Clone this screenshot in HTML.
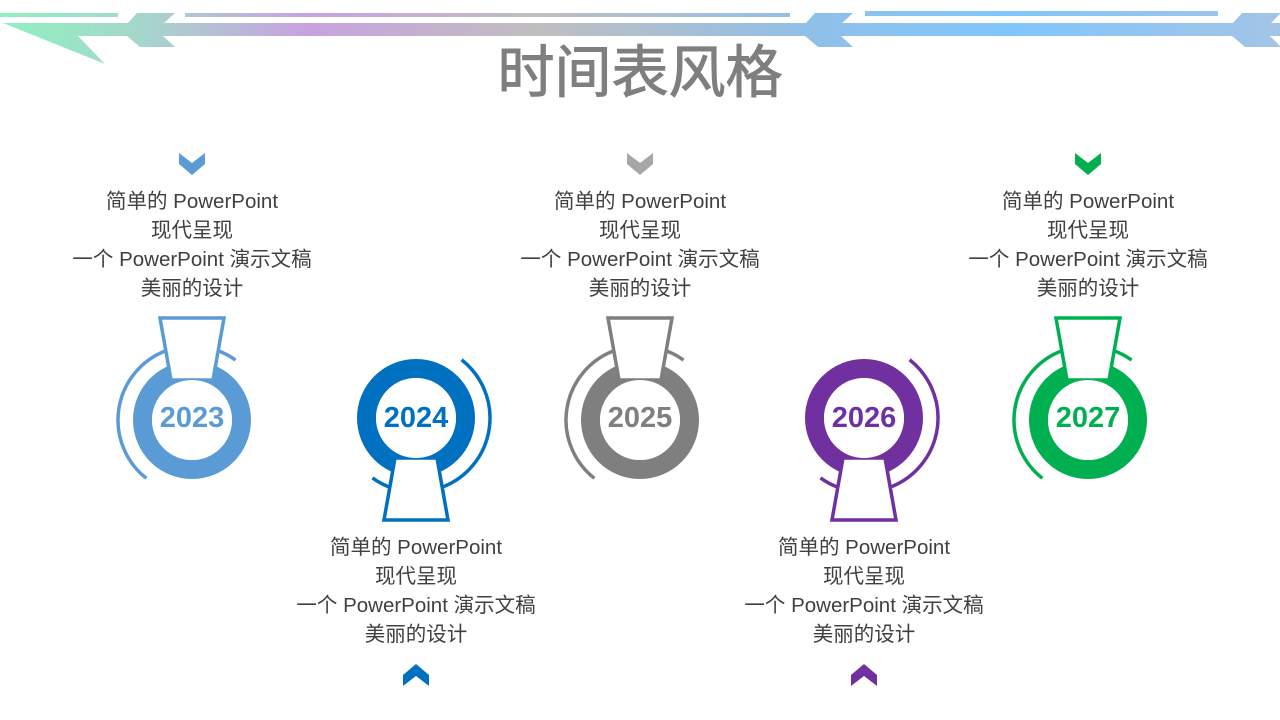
<!DOCTYPE html>
<html><head><meta charset="utf-8"><style>
html,body{margin:0;padding:0;background:#fff;width:1280px;height:720px;overflow:hidden}
svg{display:block}
.t{font-family:"Liberation Sans","Noto Sans CJK SC",sans-serif;font-size:20.5px;fill:#404040;text-anchor:middle}
.y{font-family:"Liberation Sans","Noto Sans CJK SC",sans-serif;font-size:29px;font-weight:bold;text-anchor:middle}
</style></head><body>
<svg width="1280" height="720" viewBox="0 0 1280 720" xmlns="http://www.w3.org/2000/svg">
<defs>
<linearGradient id="g" x1="0" y1="0" x2="1280" y2="0" gradientUnits="userSpaceOnUse">
<stop offset="0" stop-color="#8ef2c0"/>
<stop offset="0.11" stop-color="#a6d6cc"/>
<stop offset="0.24" stop-color="#c8a2e0"/>
<stop offset="0.42" stop-color="#c0bec0"/>
<stop offset="0.63" stop-color="#90c0e8"/>
<stop offset="0.79" stop-color="#80c6fc"/>
<stop offset="1" stop-color="#a4c4e6"/>
</linearGradient>
<g id="key">
<path d="M-27.7,-68.6 A74,74 0 0 0 -45.6,58.3" fill="none" stroke-width="3.5"/>
<path d="M26.5,-69.1 A74,74 0 0 1 43.5,-59.9" fill="none" stroke-width="3.5"/>
<circle r="49.5" fill="none" stroke-width="19"/>
<polygon points="-32,-102 32,-102 21,-40 -21,-40" fill="#fff" stroke-width="3.5"/>
<circle r="40" fill="#fff" stroke="none"/>
</g>
<polygon id="chev" points="-13,-11 0,-1 13,-11 13,0 0,11 -13,0"/>
</defs>
<g fill="url(#g)">
<rect x="0" y="13" width="118" height="4"/>
<rect x="185" y="13" width="605" height="4"/>
<rect x="865" y="11" width="353" height="5"/>
<rect x="78" y="23" width="1202" height="13"/>
<polygon points="3,23 80,23 80,36 78,36 105,64"/>
<polygon points="137,13 175,13 163,24 163,36 175,47 140,47 127,36 127,24"/>
<polygon points="815,13 853,13 841,24 841,36 853,47 818,47 805,36 805,24"/>
<polygon points="1242,13 1280,13 1280,14 1270,24 1270,36 1280,46 1280,47 1245,47 1232,36 1232,24"/>
</g>
<text x="640" y="92" font-family="'Liberation Sans','Noto Sans CJK SC',sans-serif" font-size="57" fill="#7f7f7f" stroke="#7f7f7f" stroke-width="1" text-anchor="middle">时间表风格</text>

<use href="#chev" x="192" y="164" fill="#5b9bd5"/>
<use href="#chev" x="640" y="164" fill="#a6a6a6"/>
<use href="#chev" x="1088" y="164" fill="#00b050"/>
<use href="#chev" transform="translate(416,675) rotate(180)" fill="#0070c0"/>
<use href="#chev" transform="translate(864,675) rotate(180)" fill="#7030a0"/>

<use href="#key" transform="translate(192,420)" stroke="#5b9bd5" fill="none"/>
<use href="#key" transform="translate(416,418) rotate(180)" stroke="#0070c0"/>
<use href="#key" transform="translate(640,420)" stroke="#7f7f7f"/>
<use href="#key" transform="translate(864,418) rotate(180)" stroke="#7030a0"/>
<use href="#key" transform="translate(1088,420)" stroke="#00b050"/>
<text class="y" x="192" y="427" fill="#5b9bd5">2023</text>
<text class="y" x="416" y="427" fill="#0070c0">2024</text>
<text class="y" x="640" y="427" fill="#7f7f7f">2025</text>
<text class="y" x="864" y="427" fill="#7030a0">2026</text>
<text class="y" x="1088" y="427" fill="#00b050">2027</text>

<g>
<text class="t" x="192" y="208">简单的 PowerPoint</text>
<text class="t" x="192" y="237">现代呈现</text>
<text class="t" x="192" y="266">一个 PowerPoint 演示文稿</text>
<text class="t" x="192" y="295">美丽的设计</text>
<text class="t" x="640" y="208">简单的 PowerPoint</text>
<text class="t" x="640" y="237">现代呈现</text>
<text class="t" x="640" y="266">一个 PowerPoint 演示文稿</text>
<text class="t" x="640" y="295">美丽的设计</text>
<text class="t" x="1088" y="208">简单的 PowerPoint</text>
<text class="t" x="1088" y="237">现代呈现</text>
<text class="t" x="1088" y="266">一个 PowerPoint 演示文稿</text>
<text class="t" x="1088" y="295">美丽的设计</text>
<text class="t" x="416" y="554">简单的 PowerPoint</text>
<text class="t" x="416" y="583">现代呈现</text>
<text class="t" x="416" y="612">一个 PowerPoint 演示文稿</text>
<text class="t" x="416" y="641">美丽的设计</text>
<text class="t" x="864" y="554">简单的 PowerPoint</text>
<text class="t" x="864" y="583">现代呈现</text>
<text class="t" x="864" y="612">一个 PowerPoint 演示文稿</text>
<text class="t" x="864" y="641">美丽的设计</text>
</g>
</svg>
</body></html>
